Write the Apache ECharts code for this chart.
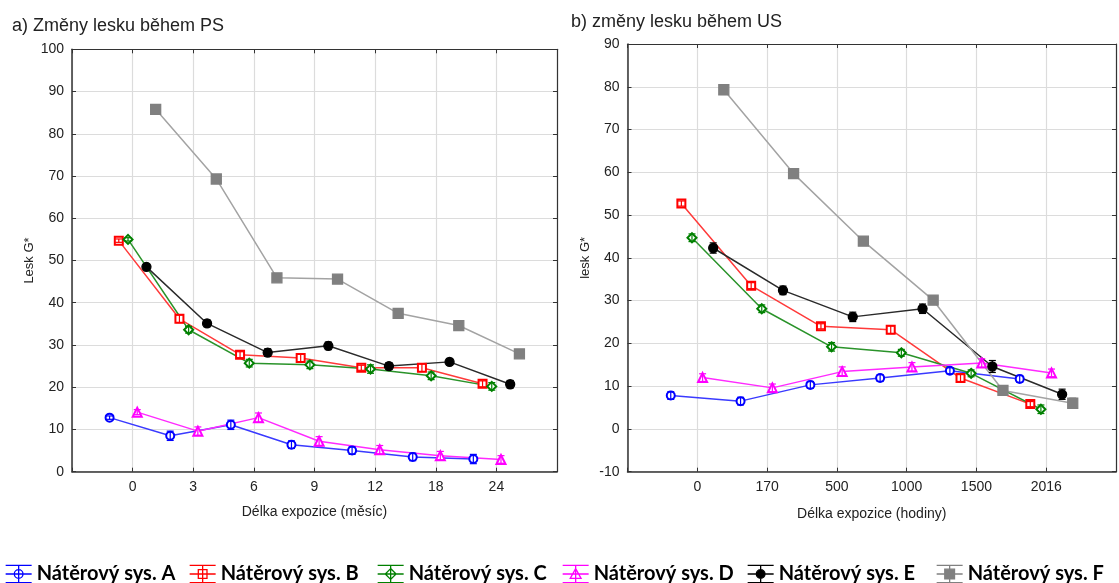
<!DOCTYPE html>
<html><head><meta charset="utf-8">
<script src="https://cdn.jsdelivr.net/npm/echarts@6/dist/echarts.min.js"></script>
<style>html,body{margin:0;padding:0;background:#fff}#c{width:1119px;height:583px}</style>
</head><body><div id="c"></div>
<script>
// ---- data ----
const catsPS = ['0', '3', '6', '9', '12', '18', '24'];
const catsUS = ['0', '170', '500', '1000', '1500', '2016'];
const seriesNames = ['Nátěrový sys. A', 'Nátěrový sys. B', 'Nátěrový sys. C', 'Nátěrový sys. D', 'Nátěrový sys. E', 'Nátěrový sys. F'];

// panel a) PS (months)
const psA = [12.8, 8.5, 11.1, 6.4, 5.0, 3.5, 3.0];
const psB = [54.7, 36.2, 27.7, 26.9, 24.6, 24.6, 20.8];
const psC = [55.0, 33.6, 25.7, 25.3, 24.3, 22.7, 20.2];
const psD = [14.1, 9.6, 12.8, 7.2, 5.2, 3.8, 2.9];
const psE = [48.5, 35.1, 28.2, 29.8, 25.0, 26.0, 20.7];
const psF = [85.8, 69.3, 45.9, 45.6, 37.5, 34.6, 27.9];
const psErrA = [0.4, 1.1, 1.1, 0.9, 0.9, 0.9, 1.1];
const psErrB = [0.4, 0.9, 0.7, 0.9, 0.6, 0.9, 0.7];
const psErrC = [0.4, 0.8, 0.9, 0.9, 1.0, 0.9, 0.9];
const psErrD = [0.6, 1.0, 1.1, 1.1, 1.0, 1.0, 0.9];
const psErrE = [0.5, 0.8, 0.9, 0.9, 0.8, 0.8, 0.9];
const psErrF = [0.5, 0.7, 0.5, 0.5, 0.6, 0.6, 0.9];

// panel b) US (hours)
const usA = [7.8, 6.5, 10.3, 11.9, 13.6, 11.7];
const usB = [52.7, 33.5, 24.0, 23.2, 11.9, 5.8];
const usC = [44.7, 28.1, 19.2, 17.8, 13.0, 4.6];
const usD = [12.0, 9.6, 13.4, 14.5, 15.4, 13.1];
const usE = [42.3, 32.4, 26.2, 28.1, 14.6, 8.1];
const usF = [79.3, 59.7, 43.9, 30.1, 9.0, 6.0];
const usErrA = [0.9, 0.9, 0.8, 0.8, 0.7, 0.8];
const usErrB = [0.6, 0.7, 0.6, 0.9, 0.8, 0.6];
const usErrC = [0.9, 0.9, 1.0, 0.8, 0.8, 1.0];
const usErrD = [0.9, 0.9, 1.1, 1.0, 1.0, 0.9];
const usErrE = [1.2, 1.0, 1.1, 1.1, 1.4, 1.2];
const usErrF = [1.1, 1.0, 1.0, 1.0, 1.0, 1.2];

// ---- styles ----
const markColors = ['#0000ff', '#ff0000', '#008000', '#ff00ff', '#000000', '#808080'];
const lineColors = ['#3a3aff', '#ff3a3a', '#2a932a', '#ff2aff', '#2a2a2a', '#a3a3a3'];
const symbols = ['emptyCircle', 'emptyRect', 'emptyDiamond', 'emptyTriangle', 'circle', 'rect'];
const symbolSizes = [8, 8, 9, 9, 9, 10];
const dodge = 0.152;
const FONT = 'Liberation Sans, Arial, sans-serif';

const psVals = [psA, psB, psC, psD, psE, psF];
const psErrs = [psErrA, psErrB, psErrC, psErrD, psErrE, psErrF];
const usVals = [usA, usB, usC, usD, usE, usF];
const usErrs = [usErrA, usErrB, usErrC, usErrD, usErrE, usErrF];

function pts(vals, errs, i) {
  return vals.map((v, k) => [k + (i - 2.5) * dodge, v, errs[k]]);
}

function errRender(color) {
  return function (params, api) {
    const x = api.value(0), y = api.value(1), e = api.value(2);
    const t = api.coord([x, y + e]), b = api.coord([x, y - e]);
    const w = 3.5;
    const st = { stroke: color, lineWidth: 1.2 };
    return { type: 'group', children: [
      { type: 'line', shape: { x1: t[0], y1: t[1], x2: b[0], y2: b[1] }, style: st },
      { type: 'line', shape: { x1: t[0] - w, y1: t[1], x2: t[0] + w, y2: t[1] }, style: st },
      { type: 'line', shape: { x1: b[0] - w, y1: b[1], x2: b[0] + w, y2: b[1] }, style: st }
    ]};
  };
}

const series = [];
[[psVals, psErrs, 0], [usVals, usErrs, 2]].forEach(([vals, errs, ax]) => {
  vals.forEach((v, i) => {
    const d = pts(v, errs[i], i);
    series.push({
      type: 'line', name: seriesNames[i], xAxisIndex: ax, yAxisIndex: ax,
      data: d, symbol: symbols[i], symbolSize: symbolSizes[i],
      lineStyle: { color: lineColors[i], width: 1.5 },
      itemStyle: { color: markColors[i], borderColor: markColors[i], borderWidth: 1.3 },
      emphasis: { disabled: true }, z: 3
    });
    series.push({
      type: 'custom', name: seriesNames[i], xAxisIndex: ax, yAxisIndex: ax,
      data: d, encode: { x: 0, y: 1 }, renderItem: errRender(markColors[i]), z: 4,
      itemStyle: { color: markColors[i] }
    });
  });
});

const base = 'M0,1H24M0,9H24M0,17H24M12,1V17';
const markPaths = [
  'M16,9A4,4,0,1,1,8,9A4,4,0,1,1,16,9Z',
  'M8,5H16V13H8Z',
  'M12,4L17,9L12,14L7,9Z',
  'M12,4L17,13H7Z',
  'M16,9A4,4,0,1,1,8,9A4,4,0,1,1,16,9Z',
  'M7.5,4.5H16.5V13.5H7.5Z'
];
const legendLefts = [5, 189, 377, 562, 747, 936];
const legends = seriesNames.map((n, i) => ({
  left: legendLefts[i], top: 564, orient: 'horizontal', padding: 0,
  itemWidth: 26, itemHeight: 19, selectedMode: false,
  textStyle: { fontFamily: 'Lato, sans-serif', fontWeight: 'bold', fontSize: 20, color: '#000' },
  data: [{
    name: n, icon: 'path://' + base + markPaths[i],
    itemStyle: { color: i >= 4 ? markColors[i] : '#fff', borderColor: markColors[i], borderWidth: 1.3 }
  }]
}));

function xAxes(cats, gi, min, max, name, gap) {
  const lab = v => (Number.isInteger(v) && v >= 0 && v < cats.length) ? cats[v] : '';
  return [{
    type: 'value', gridIndex: gi, min: min, max: max, interval: 1, position: 'bottom',
    name: name, nameLocation: 'middle', nameGap: gap,
    nameTextStyle: { fontFamily: FONT, fontSize: 14, color: '#222' },
    axisLine: { show: true, onZero: false, lineStyle: { color: '#333', width: 1.5 } },
    axisTick: { show: true, inside: true, length: 4, lineStyle: { color: '#333' } },
    axisLabel: { formatter: lab, margin: 8, fontFamily: FONT, fontSize: 14, color: '#222', showMinLabel: true, showMaxLabel: true },
    splitLine: { show: true, lineStyle: { color: '#dcdcdc', width: 1.2 } }
  }, {
    type: 'value', gridIndex: gi, min: min, max: max, interval: 1, position: 'top',
    axisLine: { show: true, onZero: false, lineStyle: { color: '#333', width: 1.2 } },
    axisTick: { show: true, inside: true, length: 4, lineStyle: { color: '#333' } },
    axisLabel: { show: false }, splitLine: { show: false }
  }];
}
function yAxes(gi, min, max, name) {
  return [{
    type: 'value', gridIndex: gi, min: min, max: max, interval: 10, position: 'left',
    name: name, nameLocation: 'middle', nameGap: 36, nameRotate: 90,
    nameTextStyle: { fontFamily: FONT, fontSize: 13, color: '#222' },
    axisLine: { show: true, onZero: false, lineStyle: { color: '#333', width: 1.5 } },
    axisTick: { show: true, inside: true, length: 4, lineStyle: { color: '#333' } },
    axisLabel: { margin: 8, fontFamily: FONT, fontSize: 14, color: '#222' },
    splitLine: { show: true, lineStyle: { color: '#dcdcdc', width: 1.2 } }
  }, {
    type: 'value', gridIndex: gi, min: min, max: max, interval: 10, position: 'right',
    axisLine: { show: true, onZero: false, lineStyle: { color: '#333', width: 1.2 } },
    axisTick: { show: true, inside: true, length: 4, lineStyle: { color: '#333' } },
    axisLabel: { show: false }, splitLine: { show: false }
  }];
}

const option = {
  backgroundColor: '#fff',
  animation: false,
  title: [
    { text: 'a) Změny lesku během PS', left: 7, top: 12, textStyle: { fontFamily: FONT, fontSize: 18, fontWeight: 'normal', color: '#222' } },
    { text: 'b) změny lesku během US', left: 566, top: 8, textStyle: { fontFamily: FONT, fontSize: 18, fontWeight: 'normal', color: '#222' } }
  ],
  grid: [
    { left: 72, top: 49.3, width: 485, height: 422.4 },
    { left: 627.5, top: 44, width: 492, height: 427.7 }
  ],
  xAxis: [...xAxes(catsPS, 0, -1, 7, 'Délka expozice (měsíc)', 33), ...xAxes(catsUS, 1, -1, 6, 'Délka expozice (hodiny)', 35)],
  yAxis: [...yAxes(0, 0, 100, 'Lesk G*'), ...yAxes(1, -10, 90, 'lesk G*')],
  legend: legends,
  series: series
};
const chart = echarts.init(document.getElementById('c'), null, { renderer: 'canvas' });
chart.setOption(option);
</script>
</body></html>
